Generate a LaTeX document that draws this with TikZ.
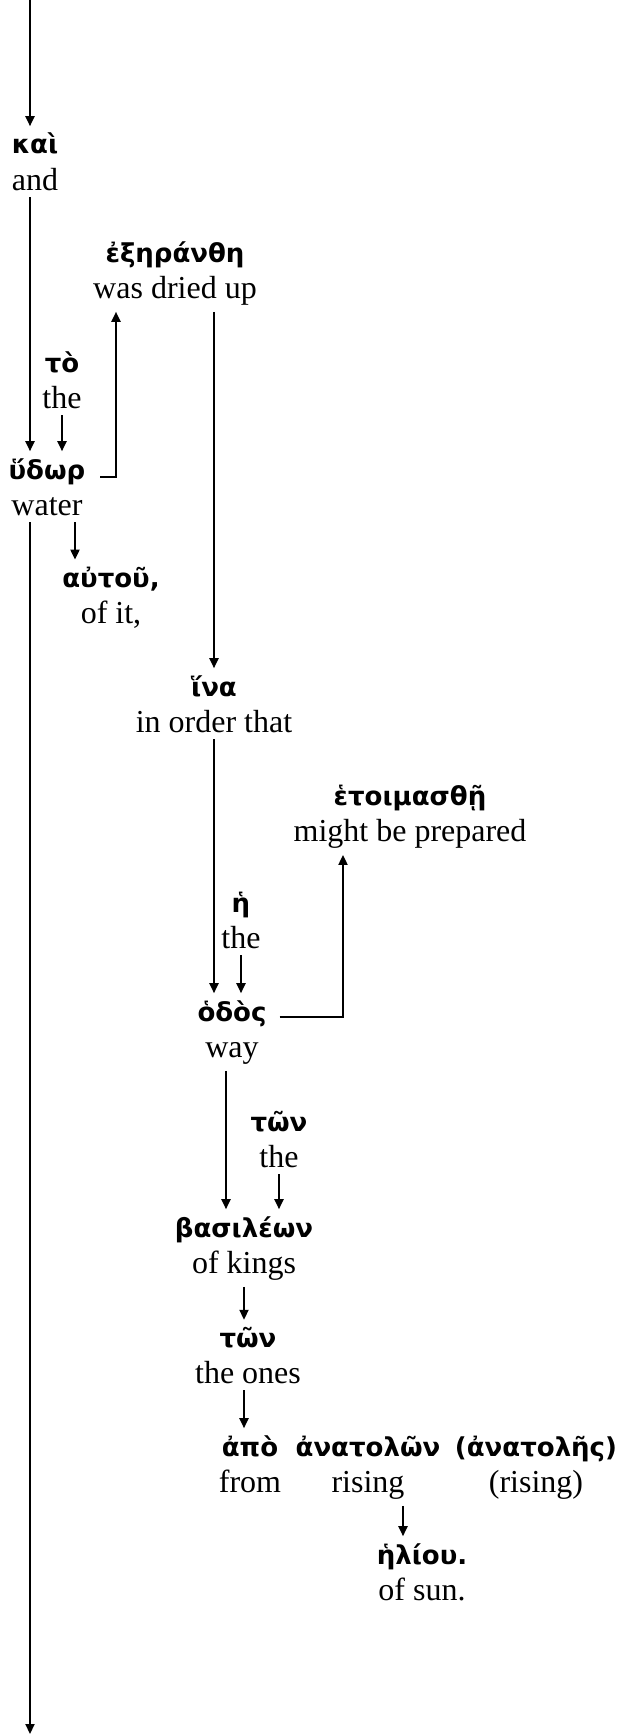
\documentclass[tikz,border=0pt]{standalone}
\usepackage{fontspec}
\setmainfont{Liberation Serif}
\newfontfamily\gkfont{DejaVu Sans}
\usetikzlibrary{arrows.meta}

\tikzset{
  wort/.style={anchor=base, align=center, inner sep=3pt,
    font=\fontsize{16}{18}\selectfont},
  >={Triangle[length=5pt,width=4.5pt]},
}
\newcommand{\gr}[1]{{\gkfont\bfseries\fontsize{13}{18}\selectfont #1}}

\begin{document}
\begin{tikzpicture}[x=0.5pt,y=-0.5pt,line width=1pt]
  \useasboundingbox (0,0) rectangle (624,1734);
  % Hauptlinie
  \coordinate (oben) at (30,0);
  \coordinate (unten) at (30,1734);
  % Woerter (Position = Grundlinie der Uebersetzung)
  \node[wort] (kai) at (35,190) {\gr{καὶ}\\and};
  \node[wort] (exer) at (175,298) {\gr{ἐξηράνθη}\\was dried up};
  \node[wort] (to) at (62,408) {\gr{τὸ}\\the};
  \node[wort] (udor) at (47,515) {\gr{ὕδωρ}\\water};
  \node[wort] (autou) at (111,623) {\gr{αὐτοῦ,}\\of it,};
  \node[wort] (hina) at (214,732) {\gr{ἵνα}\\in order that};
  \node[wort] (hetoim) at (410,841) {\gr{ἑτοιμασθῇ}\\might be prepared};
  \node[wort] (he) at (241,948) {\gr{ἡ}\\the};
  \node[wort] (hodos) at (232,1057) {\gr{ὁδὸς}\\way};
  \node[wort] (ton1) at (279,1167) {\gr{τῶν}\\the};
  \node[wort] (basil) at (244,1273) {\gr{βασιλέων}\\of kings};
  \node[wort] (ton2) at (248,1383) {\gr{τῶν}\\the ones};
  \node[wort] (apo) at (250,1492) {\gr{ἀπὸ}\\from};
  \node[wort] (anatolon) at (368,1492) {\gr{ἀνατολῶν}\\rising};
  \node[wort] (anatoles) at (536,1492) {\gr{(ἀνατολῆς)}\\(rising)};
  \node[wort] (heliou) at (422,1600) {\gr{ἡλίου.}\\of sun.};
  % Pfeile links
  \draw[->] (oben) -- (oben |- kai.north);
  \draw[->] (kai.south -| oben) -- (udor.north -| oben);
  \draw[->] (udor.south -| oben) -- (unten);
  \draw[->] (to) -- (to |- udor.north);
  \draw[->] ([xshift=4pt,yshift=19pt]udor.base east) -| ([xshift=-29.5pt]exer.south);
  \draw[->] ([xshift=14pt]udor.south) -- ([xshift=14pt]udor.south |- autou.north);
  % Pfeile Mitte
  \draw[->] (exer.south -| hina) -- (hina);
  \draw[->] (hina) -- (hina |- hodos.north);
  \draw[->] (he) -- (he |- hodos.north);
  \draw[->] ([xshift=3pt,yshift=20pt]hodos.base east) -| ([xshift=-33.5pt]hetoim.south);
  \draw[->] ([xshift=-3pt]hodos.south) -- ([xshift=-3pt]hodos.south |- basil.north);
  \draw[->] (ton1) -- (ton1 |- basil.north);
  \draw[->] (basil) -- (basil |- ton2.north);
  \draw[->] (ton2.south -| basil) -- (apo.north -| basil);
  \draw[->] ([xshift=17.5pt]anatolon.south) -- ([xshift=17.5pt]anatolon.south |- heliou.north);
\end{tikzpicture}
\end{document}
